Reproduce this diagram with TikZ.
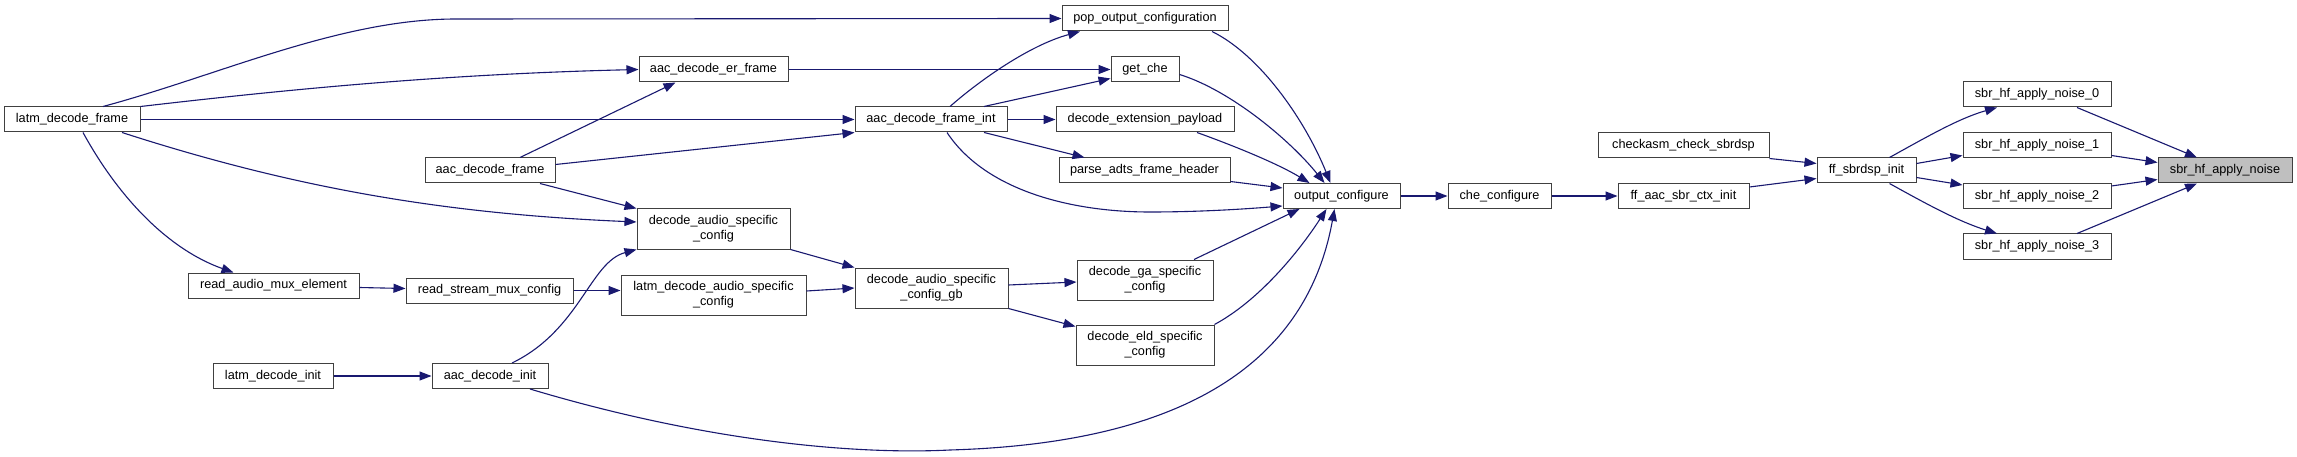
\documentclass[tikz,border=0pt]{standalone}
\usepackage{fontspec}
\setmainfont{Liberation Sans}
\usepackage{tikz}
\usepackage{xcolor}
\usetikzlibrary{arrows.meta,calc}
\definecolor{dotblue}{RGB}{25,25,112}
\definecolor{focusgray}{RGB}{191,191,191}

\begin{document}
\begin{tikzpicture}[x=1pt,y=-1pt,>={Triangle[length=12pt,width=9pt]},
  fn/.style={draw=black!75,line width=1pt,fill=white,inner sep=0pt,minimum height=25pt,
    font=\fontsize{12.7pt}{15pt}\selectfont,align=center},
  fntwo/.style={fn,minimum height=40pt},
  edge/.style={->,draw=dotblue,line width=1.1pt}]
  \useasboundingbox[fill=white] (0,0) rectangle (2297,457);
  % callers, left part
  \node[fn,minimum width=136pt] (frame) at (72,119.5) {latm\_decode\_frame};
  \node[fn,minimum width=130pt] (adframe) at (490,170.5) {aac\_decode\_frame};
  \node[fn,minimum width=171pt] (ramux) at (273.5,285.5) {read\_audio\_mux\_element};
  \node[fn,minimum width=167pt] (rsmux) at (489.5,290.5) {read\_stream\_mux\_config};
  \node[fn,minimum width=120pt] (linit) at (273,376) {latm\_decode\_init};
  \node[fn,minimum width=116pt] (ainit) at (490,376) {aac\_decode\_init};
  \node[fn,minimum width=149pt] (erframe) at (713.5,69.5) {aac\_decode\_er\_frame};
  \node[fntwo,minimum width=153pt] (asc) at (713.5,229) {decode\_audio\_specific\\\_config};
  \node[fntwo,minimum width=185pt] (lasc) at (713.5,295) {latm\_decode\_audio\_specific\\\_config};
  \node[fn,minimum width=152pt] (frameint) at (931,119.5) {aac\_decode\_frame\_int};
  \node[fntwo,minimum width=153pt] (ascgb) at (931.5,288) {decode\_audio\_specific\\\_config\_gb};
  % middle column
  \node[fn,minimum width=166pt] (popcfg) at (1145,18.5) {pop\_output\_configuration};
  \node[fn,minimum width=68pt] (getche) at (1145,69.5) {get\_che};
  \node[fn,minimum width=178pt] (extpay) at (1145,119.5) {decode\_extension\_payload};
  \node[fn,minimum width=171pt] (adts) at (1144.5,170.5) {parse\_adts\_frame\_header};
  \node[fntwo,minimum width=136pt] (gacfg) at (1145,280) {decode\_ga\_specific\\\_config};
  \node[fntwo,minimum width=138pt] (eldcfg) at (1145,345) {decode\_eld\_specific\\\_config};
  % right part
  \node[fn,minimum width=117pt] (outcfg) at (1341.5,196) {output\_configure};
  \node[fn,minimum width=103pt] (checfg) at (1499.5,196) {che\_configure};
  \node[fn,minimum width=171pt] (chkasm) at (1683.5,145.5) {checkasm\_check\_sbrdsp};
  \node[fn,minimum width=131pt] (sbrctx) at (1683.5,196) {ff\_aac\_sbr\_ctx\_init};
  \node[fn,minimum width=99pt] (sbrdsp) at (1866.5,170.5) {ff\_sbrdsp\_init};
  \foreach \i/\y in {0/94.5,1/145.5,2/196,3/246.5}
    \node[fn,minimum width=148pt] (noise\i) at (2037,\y) {sbr\_hf\_apply\_noise\_\i};
  \node[fn,minimum width=134pt,fill=focusgray] (noise) at (2225,170.5) {sbr\_hf\_apply\_noise};

  % edges from latm_decode_frame
  \draw[edge] ([xshift=31pt]frame.north) .. controls (220,75) and (340,19) .. (456,19) -- (popcfg.west);
  \draw[edge] (frame.north east) .. controls (300,88) and (450,74) .. (erframe.west);
  \draw[edge] (frame.east) -- (frameint.west);
  \draw[edge] ([xshift=50pt]frame.south) .. controls (300,190) and (450,214) .. ([yshift=7pt]asc.west);
  \draw[edge] ([xshift=11pt]frame.south) .. controls (120,200) and (170,250) .. ([xshift=-40pt]ramux.north);
  % edges from aac_decode_frame
  \draw[edge] ([xshift=30pt]adframe.north) -- ([xshift=-38pt]erframe.south);
  \draw[edge] ([yshift=6pt]adframe.east) -- (frameint.south west);
  \draw[edge] ([xshift=50pt]adframe.south) -- (asc.north west);
  \draw[edge] (erframe.east) -- (getche.west);
  % edges from aac_decode_frame_int
  \draw[edge] ([xshift=19pt]frameint.north) .. controls (980,80) and (1030,45) .. ([xshift=-65pt]popcfg.south);
  \draw[edge] ([xshift=53pt]frameint.north) -- ([yshift=-9pt]getche.west);
  \draw[edge] (frameint.east) -- (extpay.west);
  \draw[edge] ([xshift=53pt]frameint.south) -- ([xshift=-60pt]adts.north);
  \draw[edge] ([xshift=16pt]frameint.south) .. controls (985,190) and (1070,212) .. (1150,212)
    .. controls (1200,212) and (1245,209) .. ([yshift=-10pt]outcfg.west);
  % into output_configure
  \draw[edge] ([xshift=67pt]popcfg.south) .. controls (1260,55) and (1305,120) .. ([xshift=-11pt]outcfg.north);
  \draw[edge] ([yshift=-5pt]getche.east) .. controls (1230,90) and (1290,140) .. ([xshift=-17pt]outcfg.north);
  \draw[edge] ([xshift=52pt]extpay.south) .. controls (1240,148) and (1280,165) .. ([xshift=-32pt]outcfg.north);
  \draw[edge] ([yshift=-11pt]adts.east) -- ([yshift=8pt]outcfg.west);
  \draw[edge] ([xshift=49pt]gacfg.north) -- ([xshift=-42pt]outcfg.south);
  \draw[edge] (eldcfg.north east) .. controls (1260,300) and (1300,250) .. ([xshift=-15pt]outcfg.south);
  \draw[edge] ([xshift=40pt]ainit.south) .. controls (700,440) and (850,455) .. (950,450)
    .. controls (1120,445) and (1300,400) .. ([xshift=-7pt]outcfg.south);
  % lower left chain
  \draw[edge] ([yshift=-2pt]ramux.east) -- ([yshift=2pt]rsmux.west);
  \draw[edge] (rsmux.east) -- (rsmux.east -| lasc.west);
  \draw[edge] ([xshift=22pt]ainit.north) .. controls (580,330) and (590,262) .. (asc.south west);
  \draw[edge] (linit.east) -- (ainit.west);
  \draw[edge] (asc.south east) -- (ascgb.north west);
  \draw[edge] ([yshift=4pt]lasc.east) -- (ascgb.west);
  \draw[edge] ([yshift=3pt]ascgb.east) -- ([yshift=-2pt]gacfg.west);
  \draw[edge] (ascgb.south east) -- ([yshift=-2pt]eldcfg.north west);
  % right chain
  \draw[edge] (outcfg) -- (checfg);
  \draw[edge] (checfg) -- (sbrctx);
  \draw[edge] (chkasm.south east) -- ([yshift=7pt]sbrdsp.west);
  \draw[edge] ([yshift=9pt]sbrctx.east) -- ([yshift=-8pt]sbrdsp.west);
  \draw[edge] ([xshift=23pt]sbrdsp.north) .. controls (1930,135) and (1960,118) .. ([xshift=-40pt]noise0.south);
  \draw[edge] ([yshift=7pt]sbrdsp.east) -- ([yshift=-10pt]noise1.west);
  \draw[edge] ([yshift=-7pt]sbrdsp.east) -- ([yshift=11pt]noise2.west);
  \draw[edge] ([xshift=23pt]sbrdsp.south) .. controls (1930,206) and (1960,222) .. ([xshift=-40pt]noise3.north);
  \draw[edge] ([xshift=40pt]noise0.south) -- ([xshift=-28pt]noise.north);
  \draw[edge] ([yshift=-10pt]noise1.east) -- ([yshift=8pt]noise.west);
  \draw[edge] ([yshift=10pt]noise2.east) -- ([yshift=-9pt]noise.west);
  \draw[edge] ([xshift=40pt]noise3.north) -- ([xshift=-28pt]noise.south);
\end{tikzpicture}
\end{document}
